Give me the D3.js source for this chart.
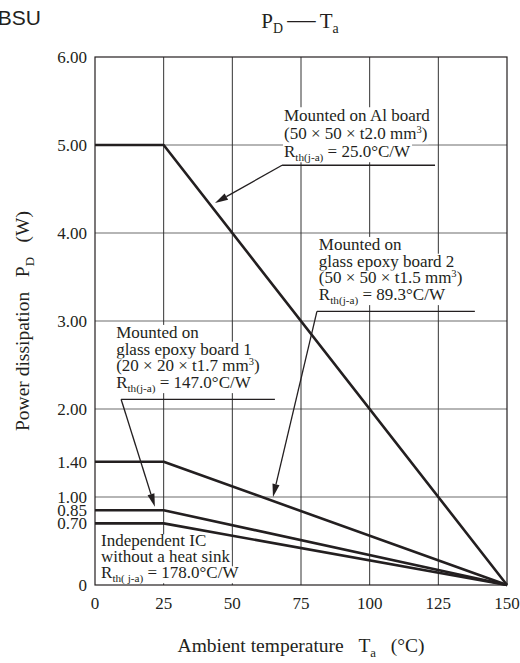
<!DOCTYPE html>
<html>
<head>
<meta charset="utf-8">
<script src="https://cdn.jsdelivr.net/npm/d3@7"></script>
<style>
  body { margin: 0; background: #fff; }
  text { font-family: "Liberation Serif", "Times New Roman", serif; fill: #231f20; }
</style>
</head>
<body>
<svg id="chart" width="520" height="663"></svg>
<script>
// chart data
const temps = [0, 25, 150];
const alBoard = [5.0, 5.0, 0];
const epoxyBoard2 = [1.4, 1.4, 0];
const epoxyBoard1 = [0.85, 0.85, 0];
const noHeatSink = [0.7, 0.7, 0];
const xTicks = [0, 25, 50, 75, 100, 125, 150];
const yTicks = [0, 0.7, 0.85, 1, 1.4, 2, 3, 4, 5, 6];
const yGrid = [1, 2, 3, 4, 5];

const margin = {top: 57, right: 13, bottom: 78, left: 95};
const width = 520;
const height = 663;
const ink = '#231f20';
const gap = '\u00a0\u00a0\u00a0';

const svg = d3.select('#chart');
const x = d3.scaleLinear().domain([0, 150]).range([margin.left, width - margin.right]);
const y = d3.scaleLinear().domain([0, 6]).range([height - margin.bottom, margin.top]);

// writes a text made of normal / sub / sup parts
function richText(sel, px, py, parts, size, anchor) {
    const t = sel.append('text')
        .attr('x', px).attr('y', py)
        .attr('text-anchor', anchor || 'start')
        .style('font-size', size + 'px');
    let shift = 0;
    parts.forEach(p => {
        const str = typeof p === 'string' ? p : p[0];
        const kind = typeof p === 'string' ? null : p[1];
        const ts = t.append('tspan').text(str);
        let target = 0;
        if (kind === 'sub') { target = size * 0.24; ts.style('font-size', (size * 0.66) + 'px'); }
        if (kind === 'sup') { target = -size * 0.38; ts.style('font-size', (size * 0.62) + 'px'); }
        if (kind === 'big') { ts.style('font-size', (size * 1.35) + 'px'); }
        if (target !== shift) { ts.attr('dy', target - shift); shift = target; }
    });
    return t;
}

// grid
svg.append('g').selectAll('line')
    .data(yGrid).enter().append('line')
    .attr('x1', x(0)).attr('x2', x(150))
    .attr('y1', d => y(d)).attr('y2', d => y(d))
    .style('stroke', '#6d6d6d').style('stroke-width', 1.1);
svg.append('g').selectAll('line')
    .data(xTicks.slice(1, -1)).enter().append('line')
    .attr('x1', d => x(d)).attr('x2', d => x(d))
    .attr('y1', y(0)).attr('y2', y(6))
    .style('stroke', '#333').style('stroke-width', 1);

// annotations (position in data units)
const notes = [
    {tx: 68.8, ty: 5.27, lh: 18, under: [68.1, 123.8, 4.77], tip: [43.7, 4.34],
     lines: [['Mounted on Al board'], ['(50 × 50 × t2.0 mm', ['3', 'sup'], ')'], ['R', ['th(j-a)', 'sub'], ' = 25.0°C/W']]},
    {tx: 81.5, ty: 3.81, lh: 16.8, under: [80.8, 138.3, 3.11], tip: [64.8, 1.0],
     lines: [['Mounted on'], ['glass epoxy board 2'], ['(50 × 50 × t1.5 mm', ['3', 'sup'], ')'], ['R', ['th(j-a)', 'sub'], ' = 89.3°C/W']]},
    {tx: 7.7, ty: 2.81, lh: 16.8, under: [9.5, 65.5, 2.11], tip: [21.8, 0.89],
     lines: [['Mounted on'], ['glass epoxy board 1'], ['(20 × 20 × t1.7 mm', ['3', 'sup'], ')'], ['R', ['th(j-a)', 'sub'], ' = 147.0°C/W']]},
    {tx: 2.2, ty: 0.44, lh: 16, under: null, tip: null,
     lines: [['Independent IC'], ['without a heat sink'], ['R', ['th(\u00a0j-a)', 'sub'], ' = 178.0°C/W']]}
];

const noteG = svg.append('g');
notes.forEach(n => {
    n.lines.forEach((parts, i) => {
        const t = richText(noteG, x(n.tx), y(n.ty) + i * n.lh, parts, 17);
        const b = t.node().getBBox();
        noteG.insert('rect', () => t.node())
            .attr('x', b.x - 1).attr('y', y(n.ty) + i * n.lh - n.lh + 4)
            .attr('width', b.width + 2).attr('height', n.lh + 1)
            .style('fill', '#fff');
    });
});

// power curves
const line = d3.line().x(d => x(d[0])).y(d => y(d[1]));
[alBoard, epoxyBoard2, epoxyBoard1, noHeatSink].forEach(s => {
    svg.append('path')
        .datum(temps.map((t, i) => [t, s[i]]))
        .attr('d', line)
        .style('fill', 'none')
        .style('stroke', ink)
        .style('stroke-width', 2.6)
        .style('stroke-linejoin', 'round');
});

// leader lines and arrows
notes.filter(n => n.under).forEach(n => {
    const [u0, u1, uy] = n.under;
    svg.append('line')
        .attr('x1', x(u0)).attr('x2', x(u1)).attr('y1', y(uy)).attr('y2', y(uy))
        .style('stroke', ink).style('stroke-width', 1.3);
    const sx = x(u0), sy = y(uy), ex = x(n.tip[0]), ey = y(n.tip[1]);
    const ang = Math.atan2(ey - sy, ex - sx);
    const len = 13, hw = 3.6;
    const bx = ex - len * Math.cos(ang), by = ey - len * Math.sin(ang);
    svg.append('line')
        .attr('x1', sx).attr('y1', sy).attr('x2', bx).attr('y2', by)
        .style('stroke', ink).style('stroke-width', 1.3);
    svg.append('path')
        .attr('d', `M${ex},${ey}L${bx - hw * Math.sin(ang)},${by + hw * Math.cos(ang)}L${bx + hw * Math.sin(ang)},${by - hw * Math.cos(ang)}Z`)
        .style('fill', ink);
});

// frame
svg.append('rect')
    .attr('x', x(0)).attr('y', y(6))
    .attr('width', x(150) - x(0)).attr('height', y(0) - y(6))
    .style('fill', 'none').style('stroke', ink).style('stroke-width', 1.2);

// tick labels
svg.append('g').selectAll('text')
    .data(yTicks).enter().append('text')
    .attr('x', x(0) - 8).attr('y', d => y(d) + 6)
    .attr('text-anchor', 'end')
    .style('font-size', '17px')
    .text(d => d === 0 ? '0' : d3.format('.2f')(d));
svg.append('g').selectAll('text')
    .data(xTicks).enter().append('text')
    .attr('x', d => x(d)).attr('y', y(0) + 24)
    .attr('text-anchor', 'middle')
    .style('font-size', '17px')
    .text(d => d);

// axis titles
richText(svg, (x(0) + x(150)) / 2, 652, ['Ambient temperature' + gap + 'T', ['a', 'sub'], gap + '(°C)'], 19.5, 'middle');
const yl = svg.append('g').attr('transform', `translate(29,${(y(0) + y(6)) / 2}) rotate(-90)`);
richText(yl, 0, 0, ['Power dissipation' + gap + 'P', ['D', 'sub'], gap + '(W)'], 19.5, 'middle');

// title
richText(svg, 300, 28, ['P', ['D', 'sub'], '\u2009', ['\u2014', 'big'], '\u2009T', ['a', 'sub']], 21, 'middle');
svg.append('text')
    .attr('x', 41).attr('y', 25)
    .attr('text-anchor', 'end')
    .style('font-family', 'Arial, "Liberation Sans", sans-serif')
    .style('font-size', '21px')
    .text('BSU');
</script>
</body>
</html>
